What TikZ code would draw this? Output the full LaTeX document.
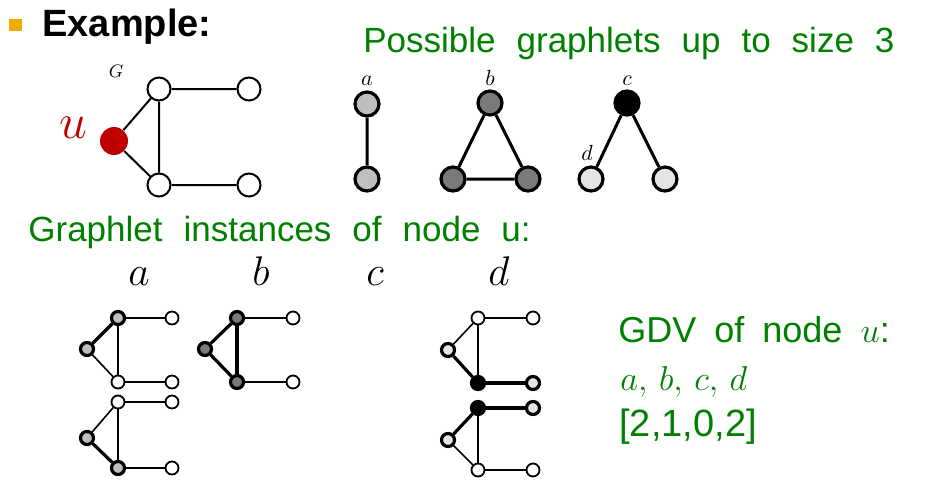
\documentclass[tikz,border=0pt]{standalone}
\usepackage{fontspec}
\setmainfont{Liberation Sans}
\definecolor{slidegreen}{RGB}{0,128,0}
\definecolor{ured}{RGB}{192,0,0}
\definecolor{bullet}{RGB}{240,171,0}
\newcommand\slidefont{\fontsize{17.5}{20}\selectfont\spaceskip 10.5pt\relax}
\newcommand\gdvfont{\fontsize{18}{21}\selectfont\spaceskip 9pt\relax}

\begin{document}
\begin{tikzpicture}[x=0.5pt,y=-0.5pt,
    gv/.style={circle,draw,line width=1pt,fill=white,inner sep=0pt,minimum size=11.5pt},
    uv/.style={circle,fill=ured,inner sep=0pt,minimum size=14pt},
    pv/.style={circle,draw,line width=1.6pt,inner sep=0pt,minimum size=12pt},
    iv/.style={circle,draw,line width=0.9pt,fill=white,inner sep=0pt,minimum size=6.5pt},
    hv/.style={circle,draw,line width=1.6pt,inner sep=0pt,minimum size=6.5pt},
    av/.style={hv,fill=black!25},
    bv/.style={hv,fill=black!52},
    dv/.style={hv,fill=black!10},
    kv/.style={hv,fill=black},
    te/.style={line width=0.8pt},
    ke/.style={line width=1.6pt},
    lab/.style={anchor=base,inner sep=0pt},
    txt/.style={anchor=base west,inner sep=0pt,text=slidegreen,font=\slidefont},
    gdv/.style={anchor=base west,inner sep=0pt,text=slidegreen,font=\gdvfont}
]
\useasboundingbox (0,0) rectangle (938,482);

% title
\fill[bullet] (9,19) rectangle (22,31);
\node[anchor=base west,inner sep=0pt,font=\fontsize{19}{22}\selectfont\bfseries] (ex) at (42,36) {Example:};
\node[txt] (poss) at (363,52) {Possible graphlets up to size 3};

% the graph G
\node[uv] (u) at (114,141) {};
\node[gv] (g1) at (159,89) {};
\node[gv] (g2) at (249,89) {};
\node[gv] (g3) at (159,185) {};
\node[gv] (g4) at (249,185) {};
\draw[line width=1pt] (u)--(g1) (u)--(g3) (g1)--(g3) (g1)--(g2) (g3)--(g4);
\node[lab,text=ured,font=\fontsize{23}{25}\selectfont] (ulab) at (73,138) {$u$};
\node[lab,font=\fontsize{9}{10}\selectfont] (glab) at (116,77) {$G$};

% graphlets up to size 3
\node[pv,fill=black!25] (pa1) at (367,104) {};
\node[pv,fill=black!25] (pa2) at (367,179) {};
\node[pv,fill=black!52] (pb1) at (490,103) {};
\node[pv,fill=black!52] (pb2) at (453,179) {};
\node[pv,fill=black!52] (pb3) at (528,179) {};
\node[pv,fill=black] (pc1) at (627,103) {};
\node[pv,fill=black!10] (pc2) at (591,179) {};
\node[pv,fill=black!10] (pc3) at (665,179) {};
\draw[line width=1.5pt] (pa1)--(pa2) (pb1)--(pb2)--(pb3)--(pb1) (pc2)--(pc1)--(pc3);
\node[lab,font=\fontsize{11}{12}\selectfont] (la) at (367,85) {$a$};
\node[lab,font=\fontsize{11}{12}\selectfont] (lb) at (490,85) {$b$};
\node[lab,font=\fontsize{11}{12}\selectfont] (lc) at (627,85) {$c$};
\node[lab,font=\fontsize{11}{12}\selectfont] (ld) at (587,160) {$d$};

% graphlet instances of u
\node[txt] (inst) at (28,241) {Graphlet instances of node u:};
\foreach \l/\px in {a/139,b/261,c/375,d/499}
  \node[lab,font=\fontsize{20}{22}\selectfont] (i\l) at (\px,285) {$\l$};

\foreach \n/\px/\py/\s in {a1l/87/349/av, a1t/118/318/av, a1b/118/382/iv, a1r/172/318/iv, a1s/172/382/iv,
    a2l/87/438/av, a2t/118/402/iv, a2b/118/468/av, a2r/172/402/iv, a2s/172/468/iv,
    b1l/205/349/bv, b1t/237/318/bv, b1b/237/382/bv, b1r/293/318/iv, b1s/293/382/iv,
    d1l/448/350/dv, d1t/478/318/iv, d1b/478/383/kv, d1r/533/318/iv, d1s/533/383/dv,
    d2l/448/440/dv, d2t/478/408/kv, d2b/478/470/iv, d2r/533/408/dv, d2s/533/470/iv}
  \node[\s] (\n) at (\px,\py) {};

\foreach \p/\q/\s in {a1l/a1t/ke, a1l/a1b/te, a1t/a1b/te, a1t/a1r/te, a1b/a1s/te,
    a2l/a2t/te, a2l/a2b/ke, a2t/a2b/te, a2t/a2r/te, a2b/a2s/te,
    b1l/b1t/ke, b1l/b1b/ke, b1t/b1b/ke, b1t/b1r/te, b1b/b1s/te,
    d1l/d1t/te, d1l/d1b/ke, d1t/d1b/te, d1t/d1r/te, d1b/d1s/ke,
    d2l/d2t/ke, d2l/d2b/te, d2t/d2b/te, d2t/d2r/ke, d2b/d2s/te}
  \draw[\s] (\p)--(\q);

% graphlet degree vector
\node[gdv] (gdv1) at (618,342) {GDV of node $u$:};
\node[gdv,font=\fontsize{19}{21}\selectfont] (gdv2) at (620,390) {$a,\,b,\,c,\,d$};
\node[gdv,font=\fontsize{19}{21}\selectfont] (gdv3) at (619,436) {[2,1,0,2]};

\end{tikzpicture}
\end{document}
